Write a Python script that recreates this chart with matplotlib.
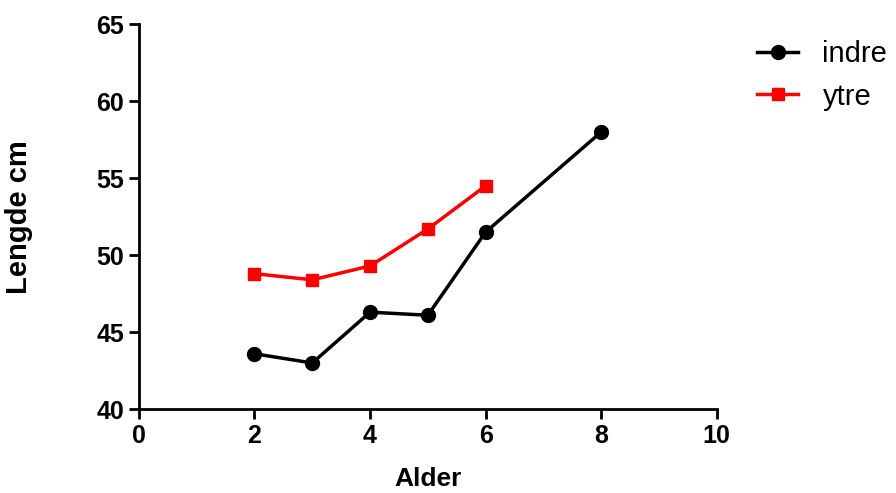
import matplotlib.pyplot as plt

plt.rcParams['font.family'] = ['Liberation Sans', 'DejaVu Sans']

alder_indre = [2, 3, 4, 5, 6, 8]
lengde_indre = [43.6, 43.0, 46.3, 46.1, 51.5, 58.0]
alder_ytre = [2, 3, 4, 5, 6]
lengde_ytre = [48.8, 48.4, 49.3, 51.7, 54.5]

fig = plt.figure(figsize=(8.96, 4.93), dpi=100)
ax = fig.add_axes([0.155, 0.170, 0.645, 0.781])

ax.plot(alder_indre, lengde_indre, color='black', lw=2.5, marker='o', ms=10, label='indre')
ax.plot(alder_ytre, lengde_ytre, color='#ff0000', lw=2.5, marker='s', ms=9, label='ytre')

ax.set_xlim(0, 10)
ax.set_ylim(40, 65)
ax.set_xticks([0, 2, 4, 6, 8, 10])
ax.set_yticks([40, 45, 50, 55, 60, 65])
for s in ['top', 'right']:
    ax.spines[s].set_visible(False)
for s in ['left', 'bottom']:
    ax.spines[s].set_linewidth(2)
ax.tick_params(width=2, length=7, labelsize=18)
for lab in ax.get_xticklabels() + ax.get_yticklabels():
    lab.set_fontweight('bold')

ax.set_xlabel('Alder', fontsize=19, fontweight='bold', labelpad=14)
ax.set_ylabel('Lengde cm', fontsize=21, fontweight='bold', labelpad=46)

fig.legend(loc='upper left', bbox_to_anchor=(0.816, 0.972), frameon=False,
           fontsize=21, handlelength=1.4, handletextpad=0.83, labelspacing=0.5)

fig.savefig('out.png', dpi=100)
